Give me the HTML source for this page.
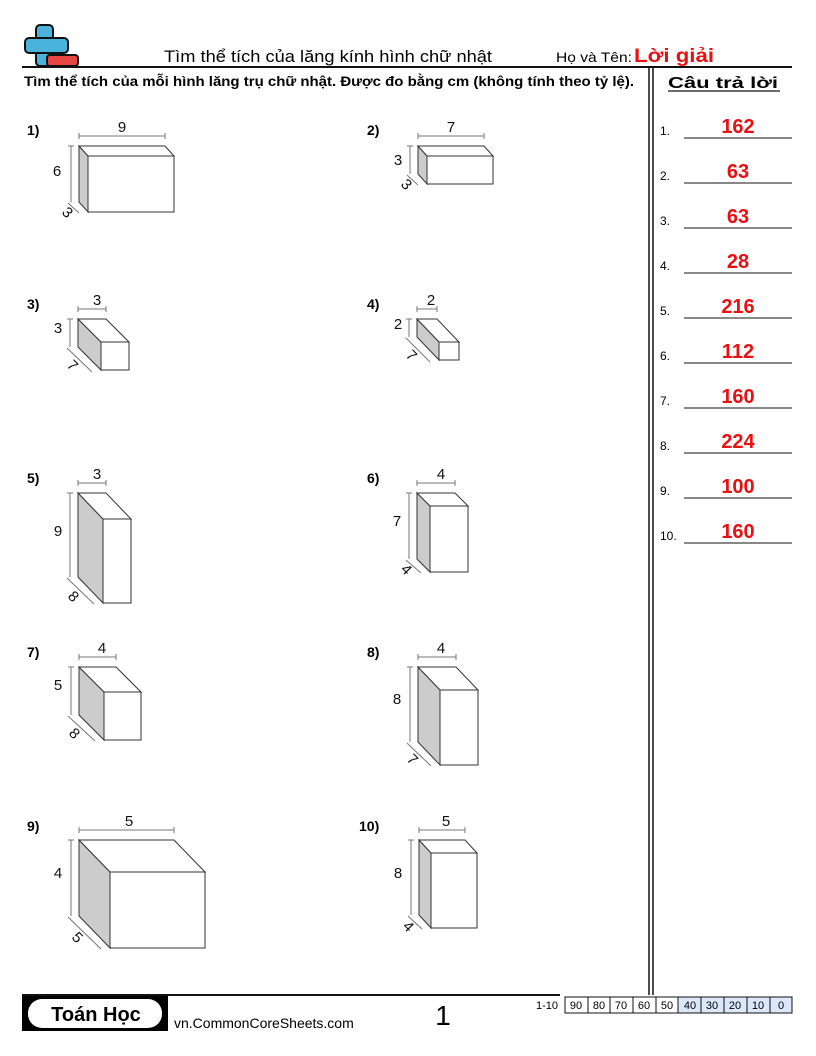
<!DOCTYPE html>
<html><head><meta charset="utf-8"><style>
html,body{margin:0;padding:0;background:#fff}
svg{display:block}
text{font-family:"Liberation Sans",sans-serif}
.b polygon,.b rect{stroke:#333;stroke-width:1}
.d line{stroke:#777;stroke-width:1}
.d text{font-size:15px;fill:#111;text-anchor:middle}
.n{font-size:14px;font-weight:bold}
</style></head><body>
<svg width="816" height="1056" viewBox="0 0 816 1056" xmlns="http://www.w3.org/2000/svg">
<!-- logo -->
<rect x="36" y="25" width="17" height="41" rx="4" fill="#4ab3dc" stroke="#111" stroke-width="2"/>
<rect x="25" y="38" width="43" height="15" rx="4" fill="#4ab3dc" stroke="#111" stroke-width="2"/>
<rect x="36.5" y="39" width="16" height="13" fill="#4ab3dc"/>
<rect x="47" y="55" width="31" height="11" rx="3" fill="#e84545" stroke="#111" stroke-width="2"/>
<text x="164" y="62" font-size="17" textLength="328" lengthAdjust="spacingAndGlyphs">Tìm thể tích của lăng kính hình chữ nhật</text>
<text x="556" y="62" font-size="14" textLength="76" lengthAdjust="spacingAndGlyphs">Họ và Tên:</text>
<text x="634" y="62" font-size="19" font-weight="bold" fill="#e81010" textLength="80" lengthAdjust="spacingAndGlyphs">Lời giải</text>
<line x1="22" y1="67" x2="792" y2="67" stroke="#111" stroke-width="2"/>
<text x="24" y="86" font-size="14" font-weight="bold" textLength="610" lengthAdjust="spacingAndGlyphs">Tìm thể tích của mỗi hình lăng trụ chữ nhật. Được đo bằng cm (không tính theo tỷ lệ).</text>
<line x1="649" y1="68" x2="649" y2="995" stroke="#111" stroke-width="1.5"/>
<line x1="653" y1="68" x2="653" y2="995" stroke="#111" stroke-width="1.5"/>
<text x="668" y="88" font-size="16" font-weight="bold" textLength="110" lengthAdjust="spacingAndGlyphs">Câu trả lời</text>
<line x1="668" y1="91" x2="780" y2="91" stroke="#111" stroke-width="1.2"/>
<g font-size="12">
<text x="660" y="135">1.</text><text x="660" y="180">2.</text><text x="660" y="225">3.</text><text x="660" y="270">4.</text><text x="660" y="315">5.</text><text x="660" y="360">6.</text><text x="660" y="405">7.</text><text x="660" y="450">8.</text><text x="660" y="495">9.</text><text x="660" y="540">10.</text>
</g>
<g font-size="20" font-weight="bold" fill="#e81010" text-anchor="middle">
<text x="738" y="133">162</text><text x="738" y="178">63</text><text x="738" y="223">63</text><text x="738" y="268">28</text><text x="738" y="313">216</text><text x="738" y="358">112</text><text x="738" y="403">160</text><text x="738" y="448">224</text><text x="738" y="493">100</text><text x="738" y="538">160</text>
</g>
<g stroke="#111" stroke-width="1">
<line x1="684" y1="138" x2="792" y2="138"/><line x1="684" y1="183" x2="792" y2="183"/><line x1="684" y1="228" x2="792" y2="228"/><line x1="684" y1="273" x2="792" y2="273"/><line x1="684" y1="318" x2="792" y2="318"/><line x1="684" y1="363" x2="792" y2="363"/><line x1="684" y1="408" x2="792" y2="408"/><line x1="684" y1="453" x2="792" y2="453"/><line x1="684" y1="498" x2="792" y2="498"/><line x1="684" y1="543" x2="792" y2="543"/>
</g>
<!-- problem numbers -->
<text class="n" x="27" y="135">1)</text><text class="n" x="367" y="135">2)</text>
<text class="n" x="27" y="309">3)</text><text class="n" x="367" y="309">4)</text>
<text class="n" x="27" y="483">5)</text><text class="n" x="367" y="483">6)</text>
<text class="n" x="27" y="657">7)</text><text class="n" x="367" y="657">8)</text>
<text class="n" x="27" y="831">9)</text><text class="n" x="359" y="831">10)</text>

<!-- 1 -->
<g transform="translate(79,146)"><g class="b"><polygon points="0,0 9,10 9,66 0,56" fill="#ccc"/><polygon points="0,0 86,0 95,10 9,10" fill="#fff"/><rect x="9" y="10" width="86" height="56" fill="#fff"/></g>
<g class="d"><line x1="0" y1="-10" x2="86" y2="-10"/><line x1="0" y1="-13" x2="0" y2="-7"/><line x1="86" y1="-13" x2="86" y2="-7"/><text x="43" y="-14">9</text>
<line x1="-8" y1="0" x2="-8" y2="56"/><line x1="-11" y1="0" x2="-5" y2="0"/><text x="-22" y="30">6</text>
<line x1="-11" y1="57" x2="0" y2="67"/><text transform="translate(-15,70) rotate(45)">3</text></g></g>
<!-- 2 -->
<g transform="translate(418,146)"><g class="b"><polygon points="0,0 9,10 9,38 0,28" fill="#ccc"/><polygon points="0,0 66,0 75,10 9,10" fill="#fff"/><rect x="9" y="10" width="66" height="28" fill="#fff"/></g>
<g class="d"><line x1="0" y1="-10" x2="66" y2="-10"/><line x1="0" y1="-13" x2="0" y2="-7"/><line x1="66" y1="-13" x2="66" y2="-7"/><text x="33" y="-14">7</text>
<line x1="-8" y1="0" x2="-8" y2="28"/><line x1="-11" y1="0" x2="-5" y2="0"/><text x="-20" y="19">3</text>
<line x1="-11" y1="29" x2="0" y2="39"/><text transform="translate(-15,42) rotate(45)">3</text></g></g>
<!-- 3 -->
<g transform="translate(78,319)"><g class="b"><polygon points="0,0 23,23 23,51 0,28" fill="#ccc"/><polygon points="0,0 28,0 51,23 23,23" fill="#fff"/><rect x="23" y="23" width="28" height="28" fill="#fff"/></g>
<g class="d"><line x1="0" y1="-10" x2="28" y2="-10"/><line x1="0" y1="-13" x2="0" y2="-7"/><line x1="28" y1="-13" x2="28" y2="-7"/><text x="19" y="-14">3</text>
<line x1="-8" y1="0" x2="-8" y2="28"/><line x1="-11" y1="0" x2="-5" y2="0"/><text x="-20" y="14">3</text>
<line x1="-11" y1="29" x2="14" y2="53"/><text transform="translate(-9,50) rotate(45)">7</text></g></g>
<!-- 4 -->
<g transform="translate(417,319)"><g class="b"><polygon points="0,0 22,23 22,41 0,18" fill="#ccc"/><polygon points="0,0 20,0 42,23 22,23" fill="#fff"/><rect x="22" y="23" width="20" height="18" fill="#fff"/></g>
<g class="d"><line x1="0" y1="-10" x2="20" y2="-10"/><line x1="0" y1="-13" x2="0" y2="-7"/><line x1="20" y1="-13" x2="20" y2="-7"/><text x="14" y="-14">2</text>
<line x1="-8" y1="0" x2="-8" y2="18"/><line x1="-11" y1="0" x2="-5" y2="0"/><text x="-19" y="10">2</text>
<line x1="-11" y1="19" x2="13" y2="43"/><text transform="translate(-9,40) rotate(45)">7</text></g></g>
<!-- 5 -->
<g transform="translate(78,493)"><g class="b"><polygon points="0,0 25,26 25,110 0,84" fill="#ccc"/><polygon points="0,0 28,0 53,26 25,26" fill="#fff"/><rect x="25" y="26" width="28" height="84" fill="#fff"/></g>
<g class="d"><line x1="0" y1="-10" x2="28" y2="-10"/><line x1="0" y1="-13" x2="0" y2="-7"/><line x1="28" y1="-13" x2="28" y2="-7"/><text x="19" y="-14">3</text>
<line x1="-8" y1="0" x2="-8" y2="84"/><line x1="-11" y1="0" x2="-5" y2="0"/><text x="-20" y="43">9</text>
<line x1="-11" y1="85" x2="16" y2="111"/><text transform="translate(-8,107) rotate(45)">8</text></g></g>
<!-- 6 -->
<g transform="translate(417,493)"><g class="b"><polygon points="0,0 13,13 13,79 0,66" fill="#ccc"/><polygon points="0,0 38,0 51,13 13,13" fill="#fff"/><rect x="13" y="13" width="38" height="66" fill="#fff"/></g>
<g class="d"><line x1="0" y1="-10" x2="38" y2="-10"/><line x1="0" y1="-13" x2="0" y2="-7"/><line x1="38" y1="-13" x2="38" y2="-7"/><text x="24" y="-14">4</text>
<line x1="-8" y1="0" x2="-8" y2="66"/><line x1="-11" y1="0" x2="-5" y2="0"/><text x="-20" y="33">7</text>
<line x1="-11" y1="67" x2="4" y2="80"/><text transform="translate(-14,80) rotate(45)">4</text></g></g>
<!-- 7 -->
<g transform="translate(79,667)"><g class="b"><polygon points="0,0 25,25 25,73 0,48" fill="#ccc"/><polygon points="0,0 37,0 62,25 25,25" fill="#fff"/><rect x="25" y="25" width="37" height="48" fill="#fff"/></g>
<g class="d"><line x1="0" y1="-10" x2="37" y2="-10"/><line x1="0" y1="-13" x2="0" y2="-7"/><line x1="37" y1="-13" x2="37" y2="-7"/><text x="23" y="-14">4</text>
<line x1="-8" y1="0" x2="-8" y2="48"/><line x1="-11" y1="0" x2="-5" y2="0"/><text x="-21" y="23">5</text>
<line x1="-11" y1="49" x2="16" y2="74"/><text transform="translate(-8,70) rotate(45)">8</text></g></g>
<!-- 8 -->
<g transform="translate(418,667)"><g class="b"><polygon points="0,0 22,23 22,98 0,75" fill="#ccc"/><polygon points="0,0 38,0 60,23 22,23" fill="#fff"/><rect x="22" y="23" width="38" height="75" fill="#fff"/></g>
<g class="d"><line x1="0" y1="-10" x2="38" y2="-10"/><line x1="0" y1="-13" x2="0" y2="-7"/><line x1="38" y1="-13" x2="38" y2="-7"/><text x="23" y="-14">4</text>
<line x1="-8" y1="0" x2="-8" y2="75"/><line x1="-11" y1="0" x2="-5" y2="0"/><text x="-21" y="37">8</text>
<line x1="-11" y1="76" x2="13" y2="99"/><text transform="translate(-9,96) rotate(45)">7</text></g></g>
<!-- 9 -->
<g transform="translate(79,840)"><g class="b"><polygon points="0,0 31,32 31,108 0,76" fill="#ccc"/><polygon points="0,0 95,0 126,32 31,32" fill="#fff"/><rect x="31" y="32" width="95" height="76" fill="#fff"/></g>
<g class="d"><line x1="0" y1="-10" x2="95" y2="-10"/><line x1="0" y1="-13" x2="0" y2="-7"/><line x1="95" y1="-13" x2="95" y2="-7"/><text x="50" y="-14">5</text>
<line x1="-8" y1="0" x2="-8" y2="76"/><line x1="-11" y1="0" x2="-5" y2="0"/><text x="-21" y="38">4</text>
<line x1="-11" y1="77" x2="22" y2="109"/><text transform="translate(-5,101) rotate(45)">5</text></g></g>
<!-- 10 -->
<g transform="translate(419,840)"><g class="b"><polygon points="0,0 12,13 12,88 0,75" fill="#ccc"/><polygon points="0,0 46,0 58,13 12,13" fill="#fff"/><rect x="12" y="13" width="46" height="75" fill="#fff"/></g>
<g class="d"><line x1="0" y1="-10" x2="46" y2="-10"/><line x1="0" y1="-13" x2="0" y2="-7"/><line x1="46" y1="-13" x2="46" y2="-7"/><text x="27" y="-14">5</text>
<line x1="-8" y1="0" x2="-8" y2="75"/><line x1="-11" y1="0" x2="-5" y2="0"/><text x="-21" y="38">8</text>
<line x1="-11" y1="76" x2="3" y2="89"/><text transform="translate(-14,90) rotate(45)">4</text></g></g>

<!-- footer -->
<line x1="22" y1="995" x2="560" y2="995" stroke="#111" stroke-width="2"/>
<rect x="22" y="996" width="146" height="35" fill="#000"/>
<rect x="28" y="999" width="134" height="29" rx="14" fill="#fff"/>
<text x="96" y="1021" font-size="20" font-weight="bold" text-anchor="middle">Toán Học</text>
<text x="174" y="1028" font-size="14">vn.CommonCoreSheets.com</text>
<text x="443" y="1025" font-size="28" text-anchor="middle">1</text>
<text x="536" y="1009" font-size="11">1-10</text>
<g font-size="11" text-anchor="middle" stroke-width="1">
<rect x="565" y="997" width="113" height="16" fill="#fff" stroke="#111"/>
<rect x="678" y="997" width="114" height="16" fill="#dbe8fb" stroke="#111"/>
<g stroke="#111"><line x1="588" y1="997" x2="588" y2="1013"/><line x1="610" y1="997" x2="610" y2="1013"/><line x1="633" y1="997" x2="633" y2="1013"/><line x1="656" y1="997" x2="656" y2="1013"/><line x1="701" y1="997" x2="701" y2="1013"/><line x1="724" y1="997" x2="724" y2="1013"/><line x1="747" y1="997" x2="747" y2="1013"/><line x1="770" y1="997" x2="770" y2="1013"/></g>
<text x="576" y="1009">90</text><text x="599" y="1009">80</text><text x="621" y="1009">70</text><text x="644" y="1009">60</text><text x="667" y="1009">50</text><text x="690" y="1009">40</text><text x="712" y="1009">30</text><text x="735" y="1009">20</text><text x="758" y="1009">10</text><text x="781" y="1009">0</text>
</g>
</svg>
</body></html>
